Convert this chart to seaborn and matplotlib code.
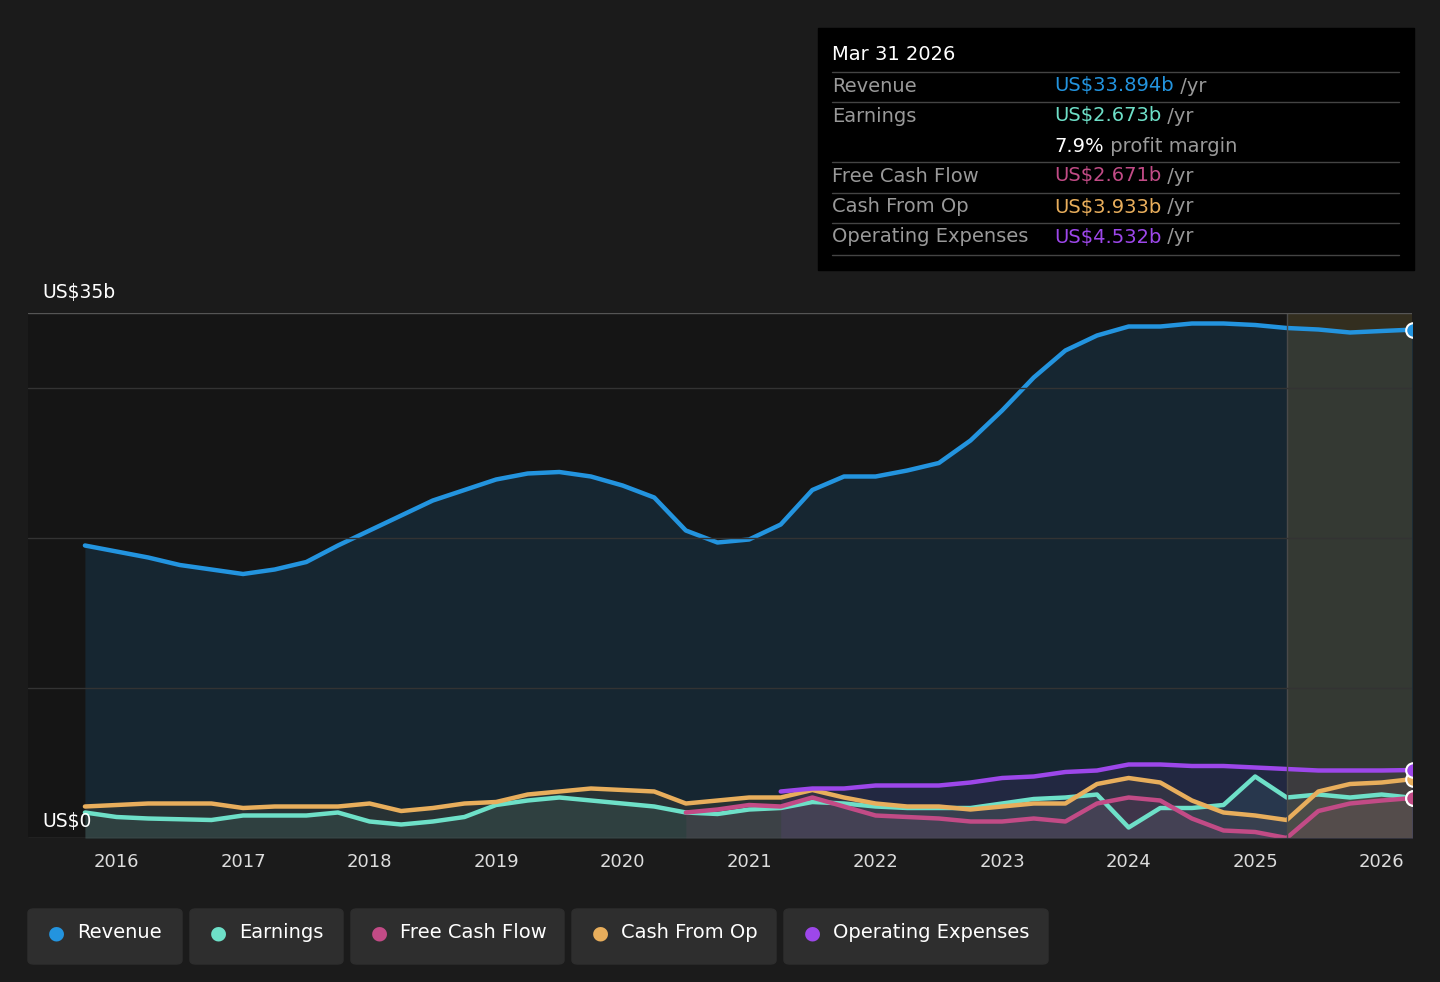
import numpy as np
import pandas as pd
import seaborn as sns
import matplotlib.pyplot as plt
from matplotlib.patches import FancyBboxPatch, Rectangle

sns.set_theme(style="dark")
plt.rcParams['font.family'] = ['DejaVu Sans']

q = [2015.75 + 0.25 * i for i in range(43)]
rev_dates = q[:43]
revenue = [19.5, 19.1, 18.7, 18.2, 17.9, 17.6, 17.9, 18.4, 19.5, 20.5, 21.5, 22.5, 23.2, 23.9,
           24.3, 24.4, 24.1, 23.5, 22.7, 20.5, 19.7, 19.9, 20.9, 23.2, 24.1, 24.1, 24.5, 25.0,
           26.5, 28.5, 30.7, 32.5, 33.5, 34.1, 34.1, 34.3, 34.3, 34.2, 34.0, 33.9, 33.7, 33.8, 33.894]
earnings = [1.7, 1.4, 1.3, 1.25, 1.2, 1.5, 1.5, 1.5, 1.7, 1.1, 0.9, 1.1, 1.4, 2.2, 2.5, 2.7, 2.5,
            2.3, 2.1, 1.7, 1.6, 1.9, 2.0, 2.4, 2.3, 2.1, 2.0, 2.0, 2.0, 2.3, 2.6, 2.7, 2.9, 0.7,
            2.0, 2.0, 2.2, 4.1, 2.7, 2.9, 2.7, 2.9, 2.673]
cash_op = [2.1, 2.2, 2.3, 2.3, 2.3, 2.0, 2.1, 2.1, 2.1, 2.3, 1.8, 2.0, 2.3, 2.4, 2.9, 3.1, 3.3,
           3.2, 3.1, 2.3, 2.5, 2.7, 2.7, 3.2, 2.7, 2.3, 2.1, 2.1, 1.9, 2.1, 2.3, 2.3, 3.6, 4.0,
           3.7, 2.5, 1.7, 1.5, 1.2, 3.1, 3.6, 3.7, 3.933]
fcf_dates = q[19:]
fcf = [1.7, 1.9, 2.2, 2.1, 2.7, 2.1, 1.5, 1.4, 1.3, 1.1, 1.1, 1.3, 1.1, 2.3, 2.7, 2.5, 1.3, 0.5,
       0.4, 0.0, 1.8, 2.3, 2.5, 2.671]
opex_dates = q[22:]
opex = [3.1, 3.3, 3.3, 3.5, 3.5, 3.5, 3.7, 4.0, 4.1, 4.4, 4.5, 4.9, 4.9, 4.8, 4.8, 4.7, 4.6, 4.5,
        4.5, 4.5, 4.532]

BG = '#1b1b1b'
colors = {'Revenue': '#2394df', 'Earnings': '#6ee0c8', 'Free Cash Flow': '#c24b86',
          'Cash From Op': '#e8ae5c', 'Operating Expenses': '#9d47ea'}

fig = plt.figure(figsize=(14.4, 9.82), dpi=100, facecolor=BG)
ax = fig.add_axes([28 / 1440, 1 - 838 / 982, 1384 / 1440, 525 / 982])
ax.set_facecolor('#151515')
ax.set_xlim(2015.30, 2026.24)
ax.set_ylim(0, 35)

series = [('Revenue', rev_dates, revenue), ('Earnings', rev_dates, earnings),
          ('Free Cash Flow', fcf_dates, fcf), ('Cash From Op', rev_dates, cash_op),
          ('Operating Expenses', opex_dates, opex)]
for name, d, v in series:
    c = colors[name]
    ax.fill_between(d, v, 0, color=c, alpha=0.14 if name == 'Revenue' else 0.09, lw=0)
    sns.lineplot(x=d, y=v, ax=ax, color=c, lw=3.2)
    ax.scatter([d[-1]], [v[-1]], s=110, color=c, edgecolor='white', lw=1.5, zorder=5)

ax.axvspan(2025.25, 2026.24, color='#7a6838', alpha=0.3, lw=0)
ax.axvline(2025.25, color='#4a4a4a', lw=1)
for y in [10, 20, 30]:
    ax.axhline(y, color='#333333', lw=1)
ax.axhline(35, color='#555555', lw=1)
ax.axhline(0, color='#555555', lw=1)
for s in ax.spines.values():
    s.set_visible(False)
ax.grid(False)
ax.set_yticks([])
ax.set_xticks(range(2016, 2027))
ax.tick_params(axis='x', colors='#dddddd', labelsize=13, length=5, color='#555555', pad=6)
ax.text(2015.41, 36.0, 'US$35b', color='white', fontsize=13.5)
ax.text(2015.41, 0.7, 'US$0', color='white', fontsize=13.5)

# tooltip
fig.patches.append(Rectangle((818 / 1440, 1 - 270 / 982), 596 / 1440, 242 / 982,
                             transform=fig.transFigure, color='black'))
fig.text(832 / 1440, 1 - 55 / 982, 'Mar 31 2026', color='white', fontsize=14, va='center')
rows = [('Revenue', 'US$33.894b', colors['Revenue'], ' /yr', 86),
        ('Earnings', 'US$2.673b', colors['Earnings'], ' /yr', 116),
        ('', '7.9%', 'white', ' profit margin', 146),
        ('Free Cash Flow', 'US$2.671b', colors['Free Cash Flow'], ' /yr', 176),
        ('Cash From Op', 'US$3.933b', colors['Cash From Op'], ' /yr', 207),
        ('Operating Expenses', 'US$4.532b', colors['Operating Expenses'], ' /yr', 237)]
for lab, val, c, suf, y in rows:
    fig.text(832 / 1440, 1 - y / 982, lab, color='#999999', fontsize=14, va='center')
    t = fig.text(1054 / 1440, 1 - y / 982, val, color=c, fontsize=14, va='center')
    fig.canvas.draw()
    bb = t.get_window_extent()
    fig.text(bb.x1 / 1440, 1 - y / 982, suf, color='#999999', fontsize=14, va='center')
for y in [72, 102, 162, 193, 223, 255]:
    fig.add_artist(plt.Line2D([832 / 1440, 1399 / 1440], [1 - y / 982] * 2, color='#444444', lw=1))

# legend buttons
buttons = [('Revenue', 28, 182), ('Earnings', 190, 343), ('Free Cash Flow', 351, 564),
           ('Cash From Op', 572, 776), ('Operating Expenses', 784, 1048)]
for name, x0, x1 in buttons:
    fig.patches.append(FancyBboxPatch((x0 / 1440, 1 - 964 / 982), (x1 - x0) / 1440, 55 / 982,
                                      boxstyle='round,pad=0,rounding_size=0.004',
                                      transform=fig.transFigure, color='#2e2e2e'))
    fig.text((x0 + 28) / 1440, 1 - 933 / 982, '●', color=colors[name], fontsize=14,
             va='center', ha='center')
    fig.text((x0 + 49) / 1440, 1 - 933 / 982, name, color='white', fontsize=14, va='center')

fig.savefig('out.png', dpi=100, facecolor=BG)
